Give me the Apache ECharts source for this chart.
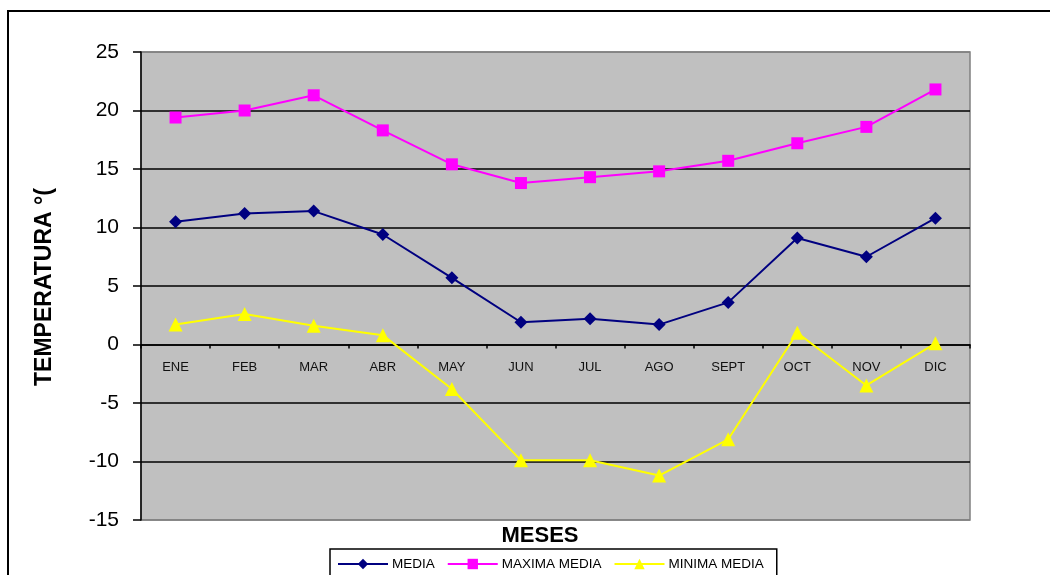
<!DOCTYPE html>
<html>
<head>
<meta charset="utf-8">
<script src="https://cdn.jsdelivr.net/npm/echarts@6/dist/echarts.min.js"></script>
<style>html,body{margin:0;padding:0;background:#fff;}#c{width:1050px;height:575px;}</style>
</head>
<body>
<div id="c"></div>
<script>
var categories = ['ENE','FEB','MAR','ABR','MAY','JUN','JUL','AGO','SEPT','OCT','NOV','DIC'];
var media = [10.5, 11.2, 11.4, 9.4, 5.7, 1.9, 2.2, 1.7, 3.6, 9.1, 7.5, 10.8];
var maximaMedia = [19.4, 20.0, 21.3, 18.3, 15.4, 13.8, 14.3, 14.8, 15.7, 17.2, 18.6, 21.8];
var minimaMedia = [1.7, 2.6, 1.6, 0.8, -3.8, -9.9, -9.9, -11.2, -8.1, 1.0, -3.5, 0.1];
var seriesNames = ['MEDIA','MAXIMA MEDIA','MINIMA MEDIA'];
var yTitle = 'TEMPERATURA °(';
var xTitle = 'MESES';

var FONT = '"Liberation Sans", Arial, sans-serif';
var chart = echarts.init(document.getElementById('c'));
chart.setOption({
  animation: false,
  backgroundColor: '#fff',
  grid: {
    left: 141, top: 52, right: 80, bottom: 55,
    show: true, backgroundColor: '#C0C0C0', borderColor: '#808080', borderWidth: 1.5
  },
  graphic: [
    { type: 'rect', shape: { x: 8, y: 11, width: 1100, height: 700 },
      style: { fill: 'none', stroke: '#000', lineWidth: 2 }, z: 100 },
    { type: 'text', x: 45, y: 287, rotation: Math.PI / 2,
      style: { text: yTitle, font: 'bold 23px ' + FONT, fill: '#000', textAlign: 'center', textVerticalAlign: 'middle' } },
    { type: 'text', x: 540, y: 536,
      style: { text: xTitle, font: 'bold 22px ' + FONT, fill: '#000', textAlign: 'center', textVerticalAlign: 'middle' } }
  ],
  legend: {
    left: 330, top: 549,
    data: seriesNames,
    borderColor: '#000', borderWidth: 1.5,
    padding: [8, 13, 10, 7],
    itemWidth: 50, itemHeight: 13, itemGap: 12,
    textStyle: { fontFamily: FONT, fontSize: 13.5, color: '#000', padding: [0, 0, 0, -1] }
  },
  xAxis: {
    type: 'category', data: categories, boundaryGap: true,
    offset: -175.5,
    axisLine: { onZero: false, lineStyle: { color: '#000', width: 1.5 } },
    axisTick: { show: true, length: 4, lineStyle: { color: '#000', width: 1.5 } },
    axisLabel: { margin: 16, fontFamily: FONT, fontSize: 13, color: '#111' },
    splitLine: { show: false }
  },
  yAxis: {
    type: 'value', min: -15, max: 25, interval: 5,
    axisLine: { show: true, lineStyle: { color: '#000', width: 1.5 } },
    axisTick: { show: true, length: 8, lineStyle: { color: '#000', width: 1.5 } },
    axisLabel: { margin: 22, fontFamily: FONT, fontSize: 21, color: '#000' },
    splitLine: { show: true, lineStyle: { color: ['#808080','#000','#000','#000','#000','#000','#000','#000','#808080'], width: 1.5 } }
  },
  series: [
    { name: seriesNames[0], type: 'line', data: media, symbol: 'diamond', symbolSize: 13,
      lineStyle: { color: '#000080', width: 2 }, itemStyle: { color: '#000080' }, z: 5 },
    { name: seriesNames[1], type: 'line', data: maximaMedia, symbol: 'rect', symbolSize: 12,
      lineStyle: { color: '#FF00FF', width: 2 }, itemStyle: { color: '#FF00FF' }, z: 5 },
    { name: seriesNames[2], type: 'line', data: minimaMedia, symbol: 'triangle', symbolSize: 14,
      lineStyle: { color: '#FFFF00', width: 2 }, itemStyle: { color: '#FFFF00' }, z: 5 }
  ]
});
</script>
</body>
</html>
